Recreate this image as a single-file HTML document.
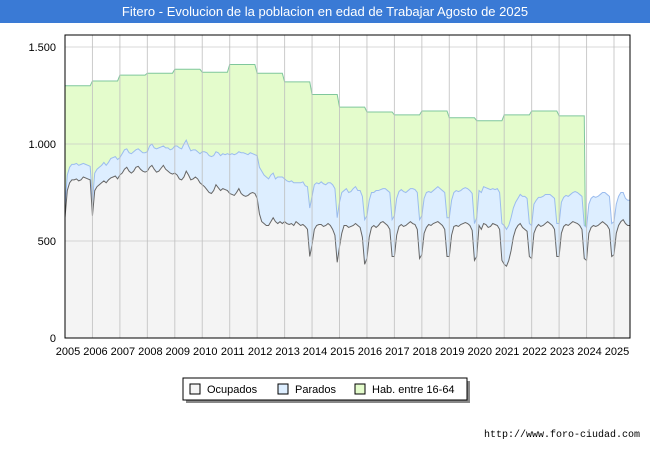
<!DOCTYPE html>
<html><head><meta charset="utf-8"><style>
body{margin:0;background:#fff;font-family:"Liberation Sans",sans-serif}
#wrap{position:relative;width:650px;height:450px;overflow:hidden;background:#fff}
#title{position:absolute;left:0;top:0;width:650px;height:23px;background:#3a7ad5;color:#fff;font-size:13px;text-align:center;line-height:23px}
svg{position:absolute;left:0;top:0}
</style></head><body>
<div id="wrap">
<div id="title">Fitero - Evolucion de la poblacion en edad de Trabajar Agosto de 2025</div>
<svg id="chart" width="650" height="450"></svg>
</div>
<script>
const years=[2005,2006,2007,2008,2009,2010,2011,2012,2013,2014,2015,2016,2017,2018,2019,2020,2021,2022,2023,2024,2025];
const habAnual=[1300,1325,1355,1365,1385,1370,1410,1365,1320,1255,1190,1165,1150,1170,1135,1120,1150,1170,1145];
const ocupados=[
620,760,800,815,815,820,810,815,830,825,820,815,
630,760,780,790,800,810,800,815,825,830,835,820,
840,850,870,880,860,850,860,880,885,870,860,855,
860,880,890,870,855,860,875,890,870,860,850,845,
850,840,820,815,830,860,840,815,820,830,820,800,
790,780,765,750,745,760,790,775,760,770,765,760,
745,740,735,750,770,745,735,730,735,745,750,745,
720,640,600,590,580,580,600,620,600,590,600,590,
600,590,585,590,580,600,590,580,585,575,560,420,
480,560,580,585,585,575,580,590,580,560,530,390,
470,540,580,580,570,575,580,590,580,570,520,380,
410,520,570,580,570,580,595,600,590,580,560,420,
420,530,575,585,575,580,590,600,590,585,560,410,
430,540,570,585,580,590,595,600,590,580,560,420,
420,530,575,580,575,585,590,595,590,580,555,400,
420,580,560,590,585,570,575,590,585,580,560,400,
380,370,400,450,520,560,580,590,570,560,550,420,
410,540,570,585,575,580,590,600,590,580,560,420,
420,540,575,585,580,590,600,595,590,580,560,410,
400,540,570,580,575,580,590,600,590,580,560,420,
430,540,580,600,610,590,580,580];
const parados=[
60,80,80,80,80,80,80,80,70,70,70,70,
80,90,90,90,90,95,90,90,100,100,100,100,
90,100,100,95,95,100,100,90,90,95,95,100,
100,110,110,110,120,120,110,100,110,120,120,130,
140,150,160,160,170,160,150,150,150,140,140,150,
170,180,190,190,190,180,170,180,180,180,180,190,
200,210,210,200,190,210,220,220,210,210,200,200,
220,240,260,250,250,240,240,230,220,240,230,240,
220,220,220,220,220,200,210,220,220,210,220,250,
250,230,220,210,220,220,210,210,220,230,240,230,
230,210,180,190,180,180,190,190,180,190,210,230,
220,190,180,170,190,180,170,170,180,180,190,190,
210,190,180,180,180,170,170,170,180,180,190,200,
200,180,180,170,170,170,175,180,180,180,190,200,
200,180,175,180,180,175,180,180,180,180,190,190,
200,180,190,190,190,200,190,180,180,190,190,190,
200,190,180,170,150,140,140,150,160,170,170,170,
170,150,140,140,150,150,150,140,150,150,160,170,
170,160,150,150,150,150,150,160,160,160,170,170,
170,150,150,150,150,150,150,150,160,160,170,170,
170,150,150,150,140,130,130,130];
const yTicks=[0,500,1000,1500];
const yTickLabels=["0","500","1.000","1.500"];

const NS="http://www.w3.org/2000/svg";
const svg=document.getElementById('chart');
const X0=65,X1=630,Y0=338,YT=35;
const xs=t=>65+(t-2005)*27.45;
const ys=v=>Y0-v*0.194;
function mk(tag,attrs,parent){const e=document.createElementNS(NS,tag);for(const k in attrs)e.setAttribute(k,attrs[k]);(parent||svg).appendChild(e);return e;}

mk('rect',{x:X0,y:YT,width:X1-X0,height:Y0-YT,fill:'#fff'});
function tm(i){return 2005+i/12;}
function area(vals,fill,stroke,name){
 let d='M'+xs(tm(0))+','+ys(vals[0]);
 for(let i=1;i<vals.length;i++)d+=' L'+xs(tm(i)).toFixed(2)+','+ys(vals[i]).toFixed(2);
 const dl=d;
 d+=' L'+xs(tm(vals.length-1)).toFixed(2)+','+Y0+' L'+xs(tm(0))+','+Y0+' Z';
 const a=mk('path',{d:d,fill:fill,stroke:'none'});
 
 
 const l=mk('path',{d:dl,fill:'none',stroke:stroke,'stroke-width':1});
 
 
}
const hab=[];
habAnual.forEach(v=>{for(let m=0;m<12;m++)hab.push(v);});
hab.push(0);
area(hab,'#e4fccc','#7fc79c','hab');
const total=ocupados.map((v,i)=>v+parados[i]);
area(total,'#ddeeff','#9bbcee','parados');
area(ocupados,'#f4f4f4','#666666','ocupados');
// grid on top
yTicks.forEach((v,i)=>{
 if(v>0){const l=mk('line',{x1:X0,x2:X1,y1:ys(v),y2:ys(v),stroke:'rgba(200,200,200,0.7)','stroke-width':1});
 
 }
 const t=mk('text',{x:56,y:ys(v)+4,'text-anchor':'end','font-size':11,fill:'#000'});
 t.textContent=yTickLabels[i];
 
 
});
years.forEach(yr=>{
 if(yr>2005){const l=mk('line',{x1:xs(yr),x2:xs(yr),y1:YT,y2:Y0,stroke:'rgba(190,190,190,0.8)','stroke-width':1});
 
 }
 const t=mk('text',{x:xs(yr)+3,y:355,'text-anchor':'middle','font-size':11,fill:'#000'});
 t.textContent=String(yr);
 
 
});
mk('rect',{x:X0,y:YT,width:X1-X0,height:Y0-YT,fill:'none',stroke:'#000','stroke-width':1});
// legend
const lg=mk('g',{});


mk('rect',{x:186,y:381,width:284,height:22,fill:'#888'},lg);
mk('rect',{x:183,y:378,width:284,height:22,fill:'#fff',stroke:'#000','stroke-width':1},lg);
[['Ocupados','#f4f4f4',190],['Parados','#ddeeff',278],['Hab. entre 16-64','#e4fccc',355]].forEach(e=>{
 const r=mk('rect',{x:e[2],y:384,width:10,height:10,fill:e[1],stroke:'#000','stroke-width':1},lg);
 
 
 const t=mk('text',{x:e[2]+17,y:393,'font-size':11,fill:'#000'},lg);
 t.textContent=e[0];
 
 
});
const src=mk('text',{x:640,y:437,'text-anchor':'end','font-size':10,fill:'#000','font-family':'Liberation Mono, monospace'});
src.textContent='http://www.foro-ciudad.com';


</script>
</body></html>
